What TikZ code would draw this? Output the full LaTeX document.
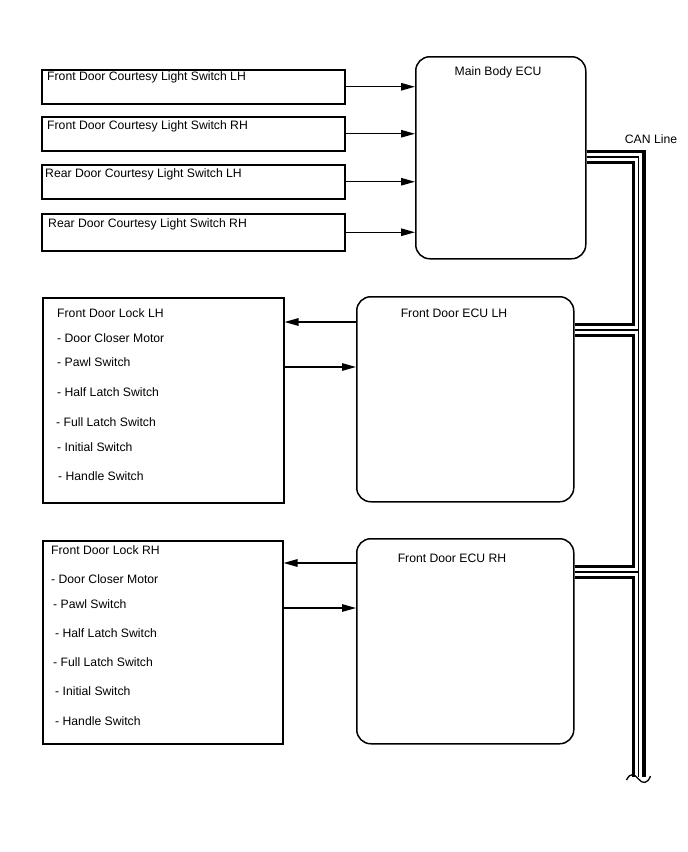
\documentclass[tikz,border=0pt]{standalone}
\usepackage{fontspec}
\setmainfont{Liberation Sans}
\usetikzlibrary{arrows.meta, positioning, calc}

\tikzset{
  swbox/.style={draw, line width=1.5pt, minimum width=303pt, minimum height=34pt, anchor=north west, inner sep=0pt},
  ecubox/.style={draw, line width=1.5pt, rounded corners=14pt, minimum width=217pt, minimum height=205pt, anchor=north west, inner sep=0pt},
  lockbox/.style={draw, line width=1.5pt, minimum width=241pt, minimum height=204pt, anchor=north west, inner sep=0pt},
  txt/.style={anchor=west, inner sep=0pt, yshift=-1.5pt, font=\fontsize{12.2}{14}\selectfont},
  ctxt/.style={inner sep=0pt, yshift=-1pt, font=\fontsize{12.2}{14}\selectfont},
  sig/.style={line width=1.4pt, -{Triangle[length=14pt,width=7.5pt]}},
}

\begin{document}
\begin{tikzpicture}[x=1pt, y=-1pt]
    \useasboundingbox (0,0) rectangle (688,852);

    % Courtesy light switches
    \node (fcl) [swbox] at (41,69) {};
    \node (fcr) [swbox] at (41,116) {};
    \node (rcl) [swbox] at (41,164) {};
    \node (rcr) [swbox, minimum height=37pt] at (41,213) {};
    \node (fclt) [txt] at (47,76) {Front Door Courtesy Light Switch LH};
    \node (fcrt) [txt] at (47,125) {Front Door Courtesy Light Switch RH};
    \node (rclt) [txt] at (45,173) {Rear Door Courtesy Light Switch LH};
    \node (rcrt) [txt] at (48,223) {Rear Door Courtesy Light Switch RH};

    % Main Body ECU
    \node (mb) [ecubox, minimum width=170pt, minimum height=202pt] at (415,56) {};
    \node (mbt) [ctxt] at (498,71) {Main Body ECU};

    \draw[sig] (fcl.east) -- (fcl.east -| mb.west);
    \draw[sig] (fcr.east) -- (fcr.east -| mb.west);
    \draw[sig] (rcl.east) -- (rcl.east -| mb.west);
    \draw[sig] (rcr.east) -- (rcr.east -| mb.west);

    % Front Door LH
    \node (ldl) [lockbox, minimum height=205pt] at (42,297) {};
    \node (el) [ecubox] at (356,296) {};
    \node (elt) [ctxt] at (454,312) {Front Door ECU LH};
    \foreach \n/\x/\y/\t in {l1/57/312/Front Door Lock LH, l2/57/337/- Door Closer Motor,
        l3/57/361/- Pawl Switch, l4/57/391/- Half Latch Switch, l5/56/421/- Full Latch Switch,
        l6/57/446/- Initial Switch, l7/58/475/- Handle Switch}
      \node (\n) [txt] at (\x,\y) {\t};

    \coordinate (lin) at ($(el.north west)+(0,26)$);
    \coordinate (lout) at ($(ldl.north east)+(0,70)$);
    \draw[sig] (lin) -- (lin -| ldl.east);
    \draw[sig] (lout) -- (lout -| el.west);

    % Front Door RH
    \node (rdl) [lockbox, minimum width=240pt, minimum height=203pt] at (42,540) {};
    \node (er) [ecubox] at (356,538) {};
    \node (ert) [ctxt] at (452,557) {Front Door ECU RH};
    \foreach \n/\x/\y/\t in {r1/51/549/Front Door Lock RH, r2/51/578/- Door Closer Motor,
        r3/53/603/- Pawl Switch, r4/55/632/- Half Latch Switch, r5/53/661/- Full Latch Switch,
        r6/55/690/- Initial Switch, r7/55/720/- Handle Switch}
      \node (\n) [txt] at (\x,\y) {\t};

    \coordinate (rin) at ($(er.north west)+(0,25)$);
    \coordinate (rout) at ($(rdl.north east)+(0,68)$);
    \draw[sig] (rin) -- (rin -| rdl.east);
    \draw[sig] (rout) -- (rout -| er.west);

    % CAN bundle
    \coordinate (canup) at ($(mb.north east)+(0,101)$);
    \coordinate (canbot) at (638.5,777);
    \coordinate (lcan) at ($(el.north east)+(0,34)$);
    \coordinate (rcan) at ($(er.north east)+(0,34)$);
    \foreach \w/\c in {14pt/black, 7.5pt/white, 1.3pt/black}
      \draw[line width=\w, draw=\c, line join=miter] (canup) -- (canup -| canbot) -- (canbot)
        (lcan) -- (lcan -| canbot) (rcan) -- (rcan -| canbot);
    \draw[line width=1.3pt] ($(canbot)+(-12,3)$) .. controls ($(canbot)+(-8,-5)$) and ($(canbot)+(-4,-3)$) .. ($(canbot)+(0,2)$)
      .. controls ($(canbot)+(4,7)$) and ($(canbot)+(9,7)$) .. ($(canbot)+(12,-1)$);
    \node (canl) [ctxt] at (651,138) {CAN Line};
\end{tikzpicture}
\end{document}
